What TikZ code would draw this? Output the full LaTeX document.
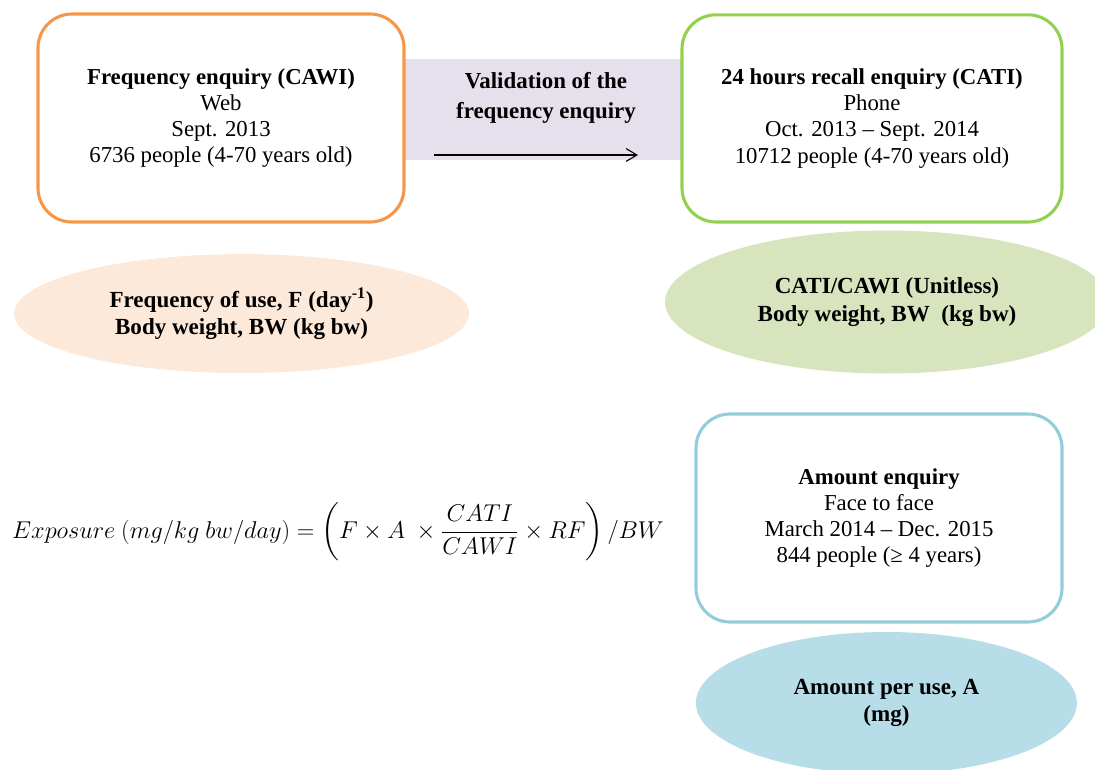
\documentclass[tikz,border=0pt]{standalone}
\usepackage{amsmath}
\usepackage{fontspec}
\setmainfont{Liberation Serif}
\usetikzlibrary{arrows.meta,positioning,shapes.geometric}
\definecolor{freqorange}{HTML}{F79646}
\definecolor{recallgreen}{HTML}{92D050}
\definecolor{amountblue}{HTML}{92CDDC}
\definecolor{freqfill}{HTML}{FDE9D9}
\definecolor{recallfill}{HTML}{D7E4BD}
\definecolor{amountfill}{HTML}{B7DEE8}
\definecolor{lavender}{HTML}{E5E0EC}
\tikzset{
  box/.style={rounded corners=0.85cm,line width=2.2pt,align=center,
    minimum width=9.15cm,minimum height=5.2cm,fill=white,
    font=\fontsize{16.2}{18.6}\selectfont},
  blob/.style={ellipse,align=center,inner sep=0pt,
    font=\fontsize{16.4}{19.5}\selectfont\bfseries},
  arr/.style={-{Straight Barb[length=2.7mm,width=3.2mm]},line width=0.8pt,black},
  note/.style={align=center,font=\fontsize{16.3}{21.3}\selectfont\bfseries}
}

\begin{document}
\begin{tikzpicture}[x=1cm,y=1cm]
  \useasboundingbox (0,0) rectangle (27.375,-19.225);
  \node[fill=lavender,minimum width=6.95cm,minimum height=2.525cm,inner sep=0pt]
    (band) at (13.575,-2.74) {};
  \node[note] (valid) at (13.65,-2.45) {Validation of the\\frequency enquiry};
  \coordinate (from) at (10.85,-3.875);
  \coordinate (to) at (15.95,-3.875);
  \draw[arr] (from)--(to);

  \node[box,draw=freqorange] (freq) at (5.525,-2.95)
    {\textbf{Frequency enquiry (CAWI)}\\Web\\Sept. 2013\\6736 people (4-70 years old)};
  \node[box,draw=recallgreen,minimum width=9.5cm,minimum height=5.18cm] (recall) at (21.8,-2.96)
    {\textbf{24 hours recall enquiry (CATI)}\\Phone\\Oct. 2013 -- Sept. 2014\\10712 people (4-70 years old)};
  \node[box,draw=amountblue] (amount) at (21.975,-12.95)
    {\textbf{Amount enquiry}\\Face to face\\March 2014 -- Dec. 2015\\844 people (≥ 4 years)};

  \node[blob,fill=freqfill,minimum width=11.375cm,minimum height=2.975cm] (freqpar) at (6.04,-7.84)
    {Frequency of use, F (day\textsuperscript{-1})\\Body weight, BW (kg bw)};
  \node[blob,fill=recallfill,minimum width=11.1cm,minimum height=3.575cm] (recallpar) at (22.175,-7.55)
    {CATI/CAWI (Unitless)\\Body weight, BW\ \ (kg bw)};
  \node[blob,fill=amountfill,minimum width=9.525cm,minimum height=3.55cm] (amountpar) at (22.16,-17.575)
    {Amount per use, A\\(mg)};

  \node[font=\fontsize{16.7}{20}\selectfont] (expo) at (8.45,-13.3)
    {$Exposure\ (mg/kg\ bw/day) = \left(F\times A\ \times\dfrac{CATI}{CAWI}\times RF\right)/BW$};
\end{tikzpicture}
\end{document}
